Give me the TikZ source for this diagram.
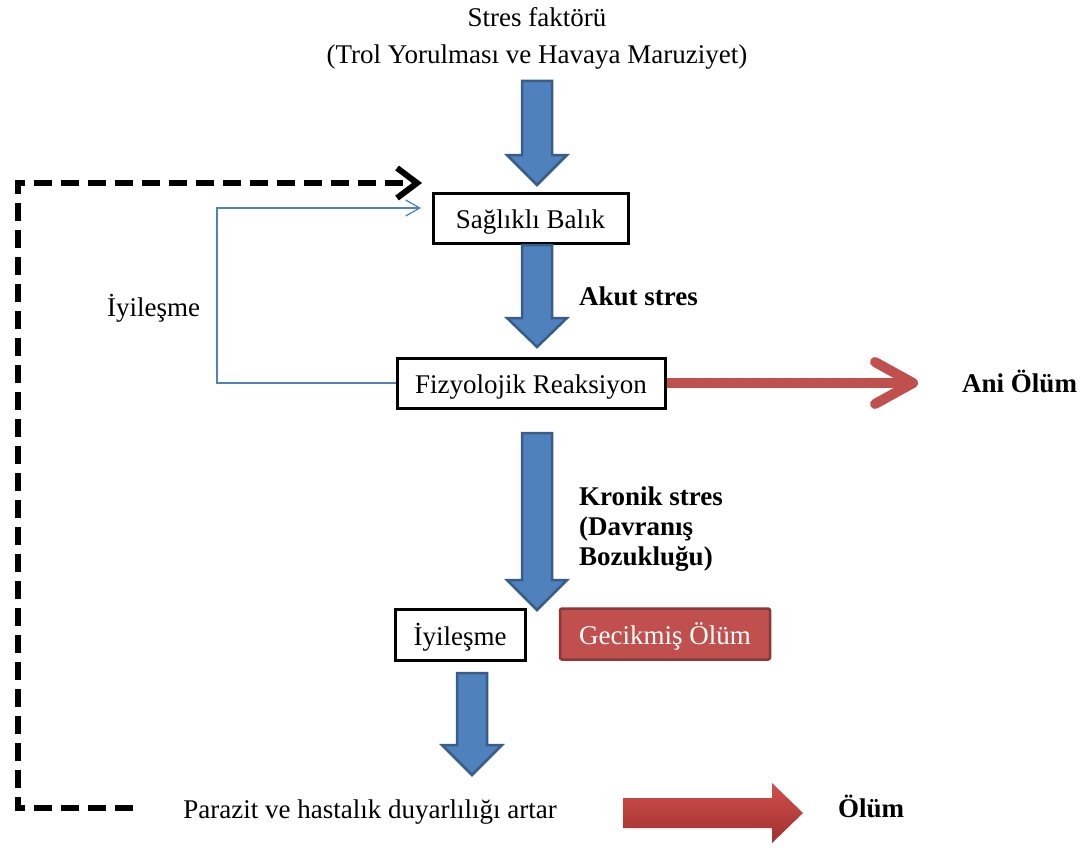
\documentclass[tikz,border=0pt]{standalone}
\usepackage{fontspec}
\setmainfont{Liberation Serif}
\usetikzlibrary{arrows.meta,calc}
\definecolor{bfill}{HTML}{4F81BD}
\definecolor{bline}{HTML}{385D8A}
\definecolor{rfill}{HTML}{C0504D}
\definecolor{rline}{HTML}{8C3836}
\definecolor{rtop}{HTML}{D0504C}
\definecolor{rbot}{HTML}{A0302E}
\newcommand\bluedown[4]{%
  \draw[bluearr] (#1-15,#2) -- (#1+15,#2) -- (#1+15,#3) -- (#1+30,#3) -- (#1,#4) -- (#1-30,#3) -- (#1-15,#3) -- cycle;}
\begin{document}
\begin{tikzpicture}[x=1pt,y=-1pt,
  font=\fontsize{27}{30}\selectfont,
  box/.style={draw=black,line width=3pt,fill=white,inner sep=0pt,text height=20pt,text depth=0pt},
  redbox/.style={draw=rline,line width=2.5pt,fill=rfill,rounded corners=2pt,text=white,inner sep=0pt,text height=20pt,text depth=0pt},
  lbl/.style={inner sep=0pt},
  bold/.style={font=\fontsize{27}{30}\selectfont\bfseries},
  bluearr/.style={draw=bline,fill=bfill,line width=2.5pt,line join=miter},
  redline/.style={draw=rfill,line width=10pt,-{Straight Barb[length=38pt,width=42pt,line cap=round,line join=round]}},
  dashline/.style={draw=black,line width=6pt,dash pattern=on 18pt off 9pt,-{Straight Barb[length=20pt,width=30pt]}},
  thinblue/.style={draw=bfill,line width=1.3pt,-{Straight Barb[length=14pt,width=16pt]}}
]
\useasboundingbox (0,0) rectangle (1086,848);

% texts
\node[lbl,anchor=base] (t1) at (537,27) {Stres faktörü};
\node[lbl,anchor=base] (t2) at (537,64) {(Trol Yorulması ve Havaya Maruziyet)};
\node[lbl,anchor=base west,bold] (akut) at (579,305) {Akut stres};
\node[lbl,anchor=base west,align=left,bold] (kronik) at (579,565) {Kronik stres\\(Davranış\\Bozukluğu)};
\node[lbl,anchor=base west,bold] (ani) at (962,392) {Ani Ölüm};
\node[lbl,anchor=base west,bold] (olum) at (838,817) {Ölüm};
\node[lbl,anchor=base west] (iylbl) at (107,316) {İyileşme};
\node[lbl,anchor=base] (par) at (370,818) {Parazit ve hastalık duyarlılığı artar};

% boxes
\node[box,minimum width=195pt,minimum height=50pt] (sb) at (530.5,218) {Sağlıklı Balık};
\node[box,minimum width=268pt,minimum height=50pt] (fr) at (531,383) {Fizyolojik Reaksiyon};
\node[box,minimum width=130pt,minimum height=51pt] (iy) at (460,635) {İyileşme};
\node[redbox,minimum width=210pt,minimum height=51pt] (gec) at (665,634) {Gecikmiş Ölüm};

% block arrows
\bluedown{537}{81}{155}{185}
\bluedown{537}{245}{318}{347}
\bluedown{537}{433}{580}{610}
\bluedown{472}{673}{745}{775}

% bottom red block arrow
\shade[top color=rtop,bottom color=rbot,draw=none]
  (623,798) -- (772,798) -- (772,783) -- (803,813) -- (772,843) -- (772,828) -- (623,828) -- cycle;

% connectors
\coordinate (redend) at (918,383);
\draw[redline] (fr.east) -- (redend);

\coordinate (thinA) at (217,383);
\coordinate (thinB) at (217,208);
\coordinate (thinC) at (421,208);
\draw[thinblue] (fr.west) -- (thinA) -- (thinB) -- (thinC);

\coordinate (dA) at (133,808);
\coordinate (dB) at (18,808);
\coordinate (dC) at (18,183);
\coordinate (dD) at (422,183);
\draw[dashline] (dA) -- (dB) -- (dC) -- (dD);
\end{tikzpicture}
\end{document}
